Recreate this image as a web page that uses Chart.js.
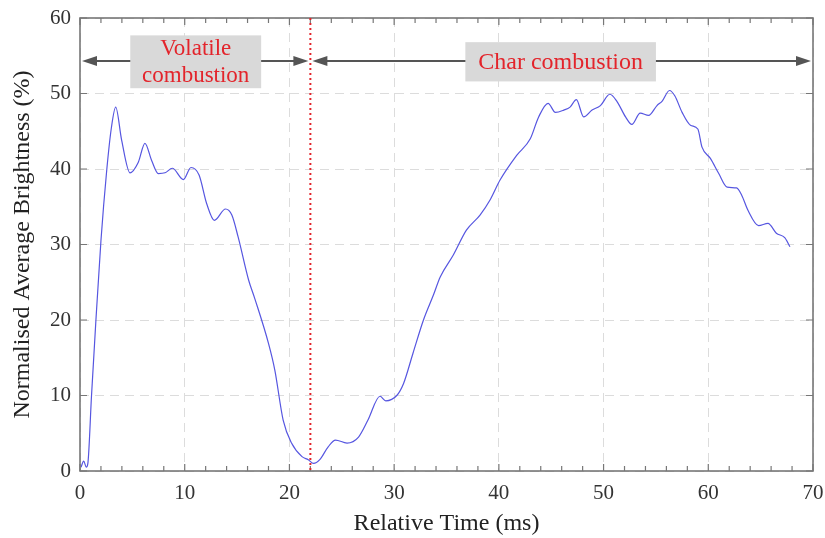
<!DOCTYPE html>
<html>
<head>
<meta charset="utf-8">
<script src="https://cdn.jsdelivr.net/npm/chart.js@4"></script>
<style>
  html, body { margin: 0; padding: 0; background: #fff; }
  #wrap { width: 825px; height: 538px; }
</style>
</head>
<body>
<div id="wrap"><canvas id="brightnessChart"></canvas></div>
<script>
// Relative time (ms) and normalised average brightness (%)
const timeMs = [0.1, 0.35, 0.6, 0.75, 1.1, 1.5, 2.0, 2.55, 3.0, 3.41,
  3.98, 4.78, 5.57, 6.2, 6.85, 7.48, 8.12, 8.82, 9.87, 10.6,
  11.37, 12.1, 12.83, 13.9, 14.5, 15.1, 16.1, 16.7, 18.0, 18.6,
  19.4, 20.2, 21.2, 21.8, 22.3, 22.9, 23.7, 24.4, 25.5, 26.6,
  27.5, 28.65, 29.2, 30.25, 30.9, 31.8, 32.8, 33.75, 34.4, 35.65,
  36.9, 38.2, 39.2, 40.1, 41.7, 43.0, 43.8, 44.7, 45.4, 46.2,
  46.8, 47.4, 48.1, 48.9, 49.7, 50.6, 51.3, 52.1, 52.7, 53.5,
  54.3, 55.1, 55.6, 56.3, 56.8, 57.5, 58.3, 59.0, 59.4, 60.2,
  61.0, 61.8, 62.7, 63.2, 63.8, 64.8, 65.7, 66.5, 67.3, 67.8];
const brightness = [0.5, 1.3, 0.5, 1.0, 10, 19.5, 30.5, 39.8, 45.5, 48.2,
  43.8, 39.5, 40.9, 43.4, 41.1, 39.4, 39.5, 40.1, 38.6, 40.2,
  39.2, 35.4, 33.2, 34.7, 33.9, 31.0, 25.3, 22.8, 16.9, 13.4,
  6.75, 3.7, 1.9, 1.5, 1.0, 1.5, 3.2, 4.1, 3.7, 4.5,
  6.75, 9.9, 9.3, 10.0, 11.6, 15.6, 20.0, 23.3, 25.7, 28.6,
  31.9, 33.9, 36.0, 38.5, 41.8, 44.0, 46.9, 48.7, 47.5, 47.8,
  48.2, 49.2, 46.9, 47.8, 48.4, 49.9, 48.9, 46.9, 45.9, 47.4,
  47.1, 48.4, 49.0, 50.4, 49.7, 47.5, 45.8, 45.3, 42.9, 41.4,
  39.4, 37.6, 37.5, 36.5, 34.5, 32.5, 32.8, 31.5, 30.9, 29.7];

const xTicks = [0, 10, 20, 30, 40, 50, 60, 70];
const yTicks = [0, 10, 20, 30, 40, 50, 60];

// phase boundary and labels
const transitionMs = 22;
const phases = [
  { from: 0, to: transitionMs, label: ["Volatile", "combustion"] },
  { from: transitionMs, to: 70, label: ["Char combustion"] }
];

const serif = "'Liberation Serif', 'Times New Roman', serif";

const decorPlugin = {
  id: "decor",
  afterDraw(chart) {
    const { ctx, chartArea: a, scales: { x, y } } = chart;
    ctx.save();

    // minor ticks along top/bottom, major ticks along left/right
    ctx.strokeStyle = "#777";
    ctx.lineWidth = 1.2;
    ctx.beginPath();
    for (let v = 0; v <= 70; v += 2) {
      const px = x.getPixelForValue(v);
      const len = v % 10 === 0 ? 7 : 5;
      ctx.moveTo(px, a.bottom); ctx.lineTo(px, a.bottom - len);
      ctx.moveTo(px, a.top); ctx.lineTo(px, a.top + len);
    }
    yTicks.forEach(v => {
      const py = y.getPixelForValue(v);
      ctx.moveTo(a.left, py); ctx.lineTo(a.left + 7, py);
      ctx.moveTo(a.right, py); ctx.lineTo(a.right - 7, py);
    });
    ctx.stroke();

    // frame
    ctx.lineWidth = 1.6;
    ctx.strokeRect(a.left, a.top, a.right - a.left, a.bottom - a.top);

    // red dotted transition line
    const tx = x.getPixelForValue(transitionMs);
    ctx.strokeStyle = "#e3242b";
    ctx.lineWidth = 2;
    ctx.setLineDash([2, 3]);
    ctx.beginPath();
    ctx.moveTo(tx, a.top); ctx.lineTo(tx, a.bottom);
    ctx.stroke();
    ctx.setLineDash([]);

    // double-headed arrows
    const ay = y.getPixelForValue(54.3);
    const head = (px, dir) => {
      ctx.beginPath();
      ctx.moveTo(px, ay);
      ctx.lineTo(px - dir * 15, ay - 5);
      ctx.lineTo(px - dir * 15, ay + 5);
      ctx.closePath();
      ctx.fill();
    };
    ctx.strokeStyle = "#555";
    ctx.fillStyle = "#555";
    ctx.lineWidth = 2;
    phases.forEach(p => {
      const x1 = x.getPixelForValue(p.from) + 2;
      const x2 = x.getPixelForValue(p.to) - 2;
      ctx.beginPath();
      ctx.moveTo(x1 + 10, ay); ctx.lineTo(x2 - 10, ay);
      ctx.stroke();
      head(x1, -1);
      head(x2, 1);
    });

    // label boxes
    const boxes = [
      { x0: 4.8, x1: 17.3, y0: 57.7, y1: 50.7, size: 23 },
      { x0: 36.8, x1: 55.0, y0: 56.8, y1: 51.6, size: 24 }
    ];
    ctx.textAlign = "center";
    ctx.textBaseline = "middle";
    phases.forEach((p, i) => {
      const b = boxes[i];
      const l = x.getPixelForValue(b.x0), r = x.getPixelForValue(b.x1);
      const t = y.getPixelForValue(b.y0), btm = y.getPixelForValue(b.y1);
      ctx.fillStyle = "#d9d9d9";
      ctx.fillRect(l, t, r - l, btm - t);
      ctx.fillStyle = "#e3242b";
      ctx.font = b.size + "px " + serif;
      const cx = (l + r) / 2, cy = (t + btm) / 2;
      const lh = 27;
      p.label.forEach((s, k) => {
        ctx.fillText(s, cx, cy + (k - (p.label.length - 1) / 2) * lh + 1);
      });
    });

    ctx.restore();
  }
};

const ctx = document.getElementById("brightnessChart").getContext("2d");
new Chart(ctx, {
  type: "line",
  data: {
    datasets: [{
      label: "Brightness",
      data: timeMs.map((t, i) => ({ x: t, y: brightness[i] })),
      borderColor: "#5656e0",
      borderWidth: 1.2,
      pointRadius: 0,
      fill: false,
      cubicInterpolationMode: "monotone"
    }]
  },
  options: {
    responsive: true,
    maintainAspectRatio: false,
    animation: false,
    layout: { padding: 0 },
    plugins: {
      legend: { display: false },
      tooltip: { enabled: false }
    },
    scales: {
      x: {
        type: "linear",
        min: 0,
        max: 70,
        afterBuildTicks: s => { s.ticks = xTicks.map(v => ({ value: v })); },
        afterFit: s => { s.height = 67; s.paddingLeft = 0; s.paddingRight = 12; },
        grid: { color: "#dcdcdc", lineWidth: 1, drawTicks: false },
        border: { display: false, dash: [9, 6] },
        ticks: { padding: 10, color: "#333", font: { family: serif, size: 21 } },
        title: {
          display: true,
          text: "Relative Time (ms)",
          color: "#222",
          font: { family: serif, size: 24 },
          padding: { top: 0, bottom: 0 }
        }
      },
      y: {
        min: 0,
        max: 60,
        afterBuildTicks: s => { s.ticks = yTicks.map(v => ({ value: v })); },
        afterFit: s => { s.width = 80; s.paddingTop = 18; s.paddingBottom = 0; },
        grid: { color: "#dcdcdc", lineWidth: 1, drawTicks: false },
        border: { display: false, dash: [9, 6] },
        ticks: { padding: 9, color: "#333", font: { family: serif, size: 21 } },
        title: {
          display: true,
          text: "Normalised Average Brightness (%)",
          color: "#222",
          font: { family: serif, size: 24 },
          padding: { top: 8, bottom: 0 }
        }
      }
    }
  },
  plugins: [decorPlugin]
});
</script>
</body>
</html>
